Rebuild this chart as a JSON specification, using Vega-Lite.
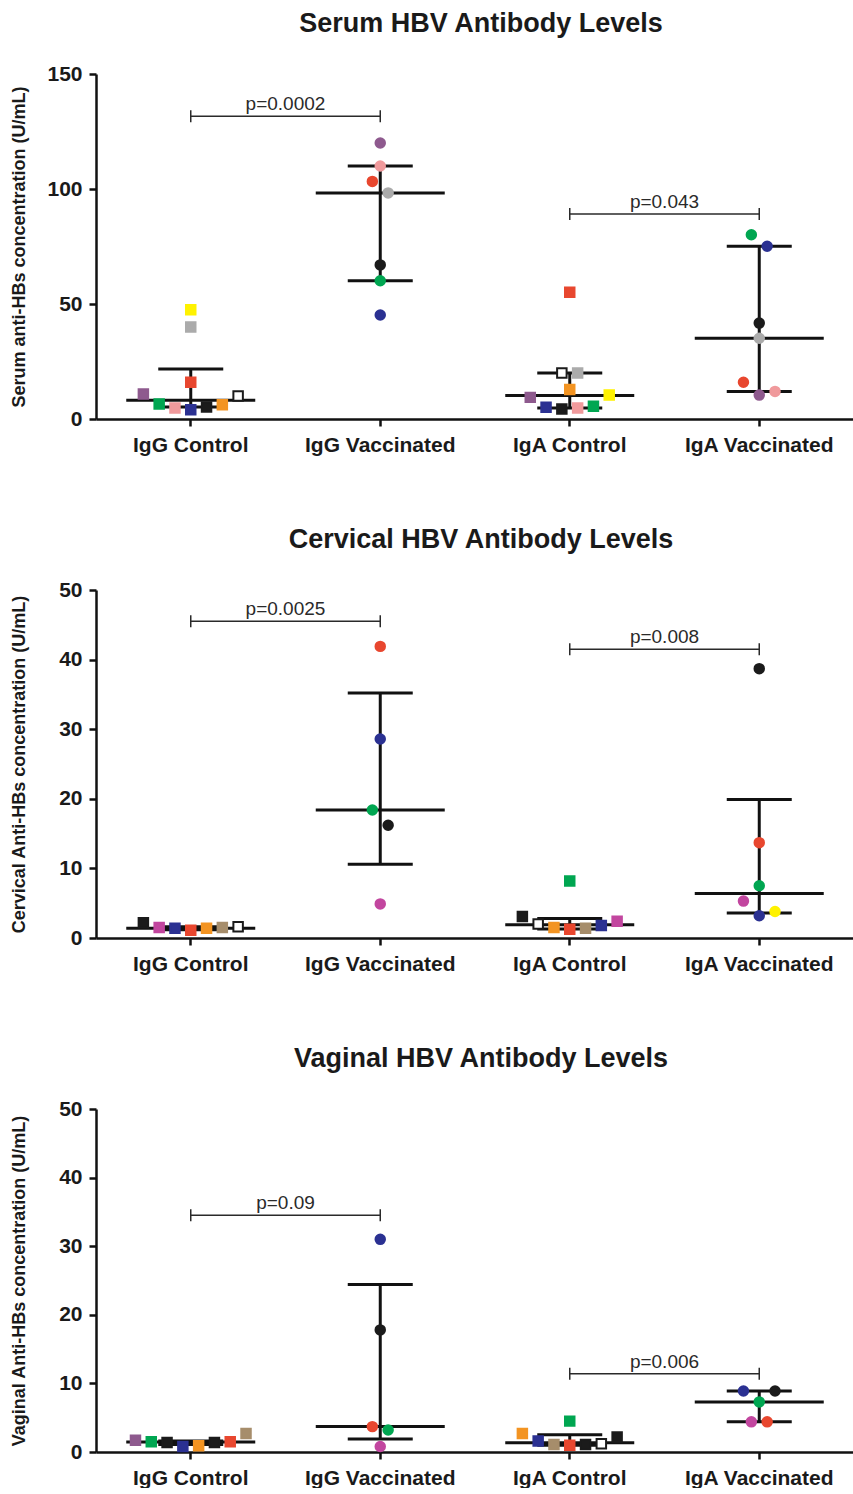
{
  "$schema": "https://vega.github.io/schema/vega-lite/v6.json",
  "background": "white",
  "padding": {"left": 9, "top": 10, "right": 0, "bottom": 0},
  "config": {
    "view": {"stroke": null},
    "font": "Liberation Sans",
    "tick": {"opacity": 1},
    "axis": {"domainColor": "#111111", "domainWidth": 2.5, "tickColor": "#111111", "tickWidth": 2.5, "tickSize": 7, "labelFont": "Liberation Sans", "labelFontSize": 21, "labelFontWeight": "bold", "labelColor": "#1a1a1a", "labelPadding": 7, "titleFont": "Liberation Sans", "titleFontSize": 18, "titleFontWeight": "bold", "titleColor": "#1a1a1a", "grid": false},
    "axisX": {"labelPadding": 8},
    "axisY": {"titleBaseline": "middle"},
    "title": {"fontSize": 27, "fontWeight": "bold", "color": "#1a1a1a", "font": "Liberation Sans", "offset": 25, "baseline": "alphabetic", "anchor": "middle", "dx": 6},
    "concat": {"spacing": 71}
  },
  "datasets": {
    "points": [
      {"panel": "Serum", "group": "IgG Control", "slot": -3, "subject": "purple", "value": 10.9},
      {"panel": "Serum", "group": "IgG Control", "slot": -2, "subject": "green", "value": 6.5},
      {"panel": "Serum", "group": "IgG Control", "slot": -1, "subject": "pink", "value": 4.8},
      {"panel": "Serum", "group": "IgG Control", "slot": 0, "subject": "yellow", "value": 47.5},
      {"panel": "Serum", "group": "IgG Control", "slot": 0, "subject": "gray", "value": 40},
      {"panel": "Serum", "group": "IgG Control", "slot": 0, "subject": "red", "value": 16},
      {"panel": "Serum", "group": "IgG Control", "slot": 0, "subject": "navy", "value": 4},
      {"panel": "Serum", "group": "IgG Control", "slot": 1, "subject": "black", "value": 5.2},
      {"panel": "Serum", "group": "IgG Control", "slot": 2, "subject": "orange", "value": 6.2},
      {"panel": "Serum", "group": "IgG Control", "slot": 3, "subject": "open", "value": 10},
      {"panel": "Serum", "group": "IgG Vaccinated", "slot": 0, "subject": "purple", "value": 120},
      {"panel": "Serum", "group": "IgG Vaccinated", "slot": 0, "subject": "pink", "value": 110},
      {"panel": "Serum", "group": "IgG Vaccinated", "slot": -0.5, "subject": "red", "value": 103.3},
      {"panel": "Serum", "group": "IgG Vaccinated", "slot": 0.5, "subject": "gray", "value": 98.3},
      {"panel": "Serum", "group": "IgG Vaccinated", "slot": 0, "subject": "black", "value": 67},
      {"panel": "Serum", "group": "IgG Vaccinated", "slot": 0, "subject": "green", "value": 60.1},
      {"panel": "Serum", "group": "IgG Vaccinated", "slot": 0, "subject": "navy", "value": 45.2},
      {"panel": "Serum", "group": "IgA Control", "slot": 0, "subject": "red", "value": 55.1},
      {"panel": "Serum", "group": "IgA Control", "slot": -0.5, "subject": "open", "value": 20},
      {"panel": "Serum", "group": "IgA Control", "slot": 0.5, "subject": "gray", "value": 20},
      {"panel": "Serum", "group": "IgA Control", "slot": 0, "subject": "orange", "value": 12.8},
      {"panel": "Serum", "group": "IgA Control", "slot": -2.5, "subject": "purple", "value": 9.4},
      {"panel": "Serum", "group": "IgA Control", "slot": 2.5, "subject": "yellow", "value": 10.4},
      {"panel": "Serum", "group": "IgA Control", "slot": -1.5, "subject": "navy", "value": 5.1},
      {"panel": "Serum", "group": "IgA Control", "slot": -0.5, "subject": "black", "value": 4.3},
      {"panel": "Serum", "group": "IgA Control", "slot": 0.5, "subject": "pink", "value": 4.8},
      {"panel": "Serum", "group": "IgA Control", "slot": 1.5, "subject": "green", "value": 5.5},
      {"panel": "Serum", "group": "IgA Vaccinated", "slot": -0.5, "subject": "green", "value": 80.1},
      {"panel": "Serum", "group": "IgA Vaccinated", "slot": 0.5, "subject": "navy", "value": 75.1},
      {"panel": "Serum", "group": "IgA Vaccinated", "slot": 0, "subject": "black", "value": 41.7},
      {"panel": "Serum", "group": "IgA Vaccinated", "slot": 0, "subject": "gray", "value": 35.1},
      {"panel": "Serum", "group": "IgA Vaccinated", "slot": -1, "subject": "red", "value": 16},
      {"panel": "Serum", "group": "IgA Vaccinated", "slot": 0, "subject": "purple", "value": 10.4},
      {"panel": "Serum", "group": "IgA Vaccinated", "slot": 1, "subject": "pink", "value": 12},
      {"panel": "Cervical", "group": "IgG Control", "slot": -3, "subject": "black", "value": 2.2},
      {"panel": "Cervical", "group": "IgG Control", "slot": -2, "subject": "magenta", "value": 1.5},
      {"panel": "Cervical", "group": "IgG Control", "slot": -1, "subject": "navy", "value": 1.4},
      {"panel": "Cervical", "group": "IgG Control", "slot": 0, "subject": "red", "value": 1.1},
      {"panel": "Cervical", "group": "IgG Control", "slot": 1, "subject": "orange", "value": 1.4},
      {"panel": "Cervical", "group": "IgG Control", "slot": 2, "subject": "tan", "value": 1.5},
      {"panel": "Cervical", "group": "IgG Control", "slot": 3, "subject": "open", "value": 1.6},
      {"panel": "Cervical", "group": "IgG Vaccinated", "slot": 0, "subject": "red", "value": 41.9},
      {"panel": "Cervical", "group": "IgG Vaccinated", "slot": 0, "subject": "navy", "value": 28.6},
      {"panel": "Cervical", "group": "IgG Vaccinated", "slot": -0.5, "subject": "green", "value": 18.4},
      {"panel": "Cervical", "group": "IgG Vaccinated", "slot": 0.5, "subject": "black", "value": 16.2},
      {"panel": "Cervical", "group": "IgG Vaccinated", "slot": 0, "subject": "magenta", "value": 4.9},
      {"panel": "Cervical", "group": "IgA Control", "slot": 0, "subject": "green", "value": 8.2},
      {"panel": "Cervical", "group": "IgA Control", "slot": -3, "subject": "black", "value": 3.1},
      {"panel": "Cervical", "group": "IgA Control", "slot": -2, "subject": "open", "value": 2.0},
      {"panel": "Cervical", "group": "IgA Control", "slot": -1, "subject": "orange", "value": 1.5},
      {"panel": "Cervical", "group": "IgA Control", "slot": 0, "subject": "red", "value": 1.25},
      {"panel": "Cervical", "group": "IgA Control", "slot": 1, "subject": "tan", "value": 1.4},
      {"panel": "Cervical", "group": "IgA Control", "slot": 2, "subject": "navy", "value": 1.8},
      {"panel": "Cervical", "group": "IgA Control", "slot": 3, "subject": "magenta", "value": 2.4},
      {"panel": "Cervical", "group": "IgA Vaccinated", "slot": 0, "subject": "black", "value": 38.7},
      {"panel": "Cervical", "group": "IgA Vaccinated", "slot": 0, "subject": "red", "value": 13.7},
      {"panel": "Cervical", "group": "IgA Vaccinated", "slot": 0, "subject": "green", "value": 7.5},
      {"panel": "Cervical", "group": "IgA Vaccinated", "slot": -1, "subject": "magenta", "value": 5.3},
      {"panel": "Cervical", "group": "IgA Vaccinated", "slot": 0, "subject": "navy", "value": 3.2},
      {"panel": "Cervical", "group": "IgA Vaccinated", "slot": 1, "subject": "yellow", "value": 3.8},
      {"panel": "Vaginal", "group": "IgG Control", "slot": -3.5, "subject": "purple", "value": 1.7},
      {"panel": "Vaginal", "group": "IgG Control", "slot": -2.5, "subject": "green", "value": 1.5},
      {"panel": "Vaginal", "group": "IgG Control", "slot": -1.5, "subject": "black", "value": 1.4},
      {"panel": "Vaginal", "group": "IgG Control", "slot": -0.5, "subject": "navy", "value": 0.8},
      {"panel": "Vaginal", "group": "IgG Control", "slot": 0.5, "subject": "orange", "value": 0.9},
      {"panel": "Vaginal", "group": "IgG Control", "slot": 1.5, "subject": "black", "value": 1.4},
      {"panel": "Vaginal", "group": "IgG Control", "slot": 2.5, "subject": "red", "value": 1.5},
      {"panel": "Vaginal", "group": "IgG Control", "slot": 3.5, "subject": "tan", "value": 2.7},
      {"panel": "Vaginal", "group": "IgG Vaccinated", "slot": 0, "subject": "navy", "value": 31.0},
      {"panel": "Vaginal", "group": "IgG Vaccinated", "slot": 0, "subject": "black", "value": 17.8},
      {"panel": "Vaginal", "group": "IgG Vaccinated", "slot": -0.5, "subject": "red", "value": 3.7},
      {"panel": "Vaginal", "group": "IgG Vaccinated", "slot": 0.5, "subject": "green", "value": 3.2},
      {"panel": "Vaginal", "group": "IgG Vaccinated", "slot": 0, "subject": "magenta", "value": 0.8},
      {"panel": "Vaginal", "group": "IgA Control", "slot": -3, "subject": "orange", "value": 2.7},
      {"panel": "Vaginal", "group": "IgA Control", "slot": 0, "subject": "green", "value": 4.5},
      {"panel": "Vaginal", "group": "IgA Control", "slot": -2, "subject": "navy", "value": 1.6},
      {"panel": "Vaginal", "group": "IgA Control", "slot": -1, "subject": "tan", "value": 1.1},
      {"panel": "Vaginal", "group": "IgA Control", "slot": 0, "subject": "red", "value": 1.0},
      {"panel": "Vaginal", "group": "IgA Control", "slot": 1, "subject": "black", "value": 1.1},
      {"panel": "Vaginal", "group": "IgA Control", "slot": 2, "subject": "open", "value": 1.2},
      {"panel": "Vaginal", "group": "IgA Control", "slot": 3, "subject": "black", "value": 2.2},
      {"panel": "Vaginal", "group": "IgA Vaccinated", "slot": -1, "subject": "navy", "value": 8.9},
      {"panel": "Vaginal", "group": "IgA Vaccinated", "slot": 1, "subject": "black", "value": 8.9},
      {"panel": "Vaginal", "group": "IgA Vaccinated", "slot": 0, "subject": "green", "value": 7.3},
      {"panel": "Vaginal", "group": "IgA Vaccinated", "slot": -0.5, "subject": "magenta", "value": 4.4},
      {"panel": "Vaginal", "group": "IgA Vaccinated", "slot": 0.5, "subject": "red", "value": 4.4}
    ],
    "stats": [
      {"panel": "Serum", "group": "IgG Control", "median": 8.2, "q1": 5.2, "q3": 21.7},
      {"panel": "Serum", "group": "IgG Vaccinated", "median": 98.3, "q1": 60.1, "q3": 110},
      {"panel": "Serum", "group": "IgA Control", "median": 10.2, "q1": 4.8, "q3": 20},
      {"panel": "Serum", "group": "IgA Vaccinated", "median": 35.1, "q1": 12, "q3": 75.1},
      {"panel": "Cervical", "group": "IgG Control", "median": 1.4, "q1": 1.2, "q3": 1.6},
      {"panel": "Cervical", "group": "IgG Vaccinated", "median": 18.4, "q1": 10.6, "q3": 35.2},
      {"panel": "Cervical", "group": "IgA Control", "median": 1.9, "q1": 1.3, "q3": 2.8},
      {"panel": "Cervical", "group": "IgA Vaccinated", "median": 6.4, "q1": 3.6, "q3": 19.9},
      {"panel": "Vaginal", "group": "IgG Control", "median": 1.46, "q1": 1.1, "q3": 1.6},
      {"panel": "Vaginal", "group": "IgG Vaccinated", "median": 3.7, "q1": 1.9, "q3": 24.4},
      {"panel": "Vaginal", "group": "IgA Control", "median": 1.36, "q1": 1.0, "q3": 2.5},
      {"panel": "Vaginal", "group": "IgA Vaccinated", "median": 7.3, "q1": 4.4, "q3": 8.9}
    ],
    "brackets": [
      {"panel": "Serum", "from": "IgG Control", "to": "IgG Vaccinated", "y": 131.6, "label": "p=0.0002"},
      {"panel": "Serum", "from": "IgA Control", "to": "IgA Vaccinated", "y": 89.1, "label": "p=0.043"},
      {"panel": "Cervical", "from": "IgG Control", "to": "IgG Vaccinated", "y": 45.5, "label": "p=0.0025"},
      {"panel": "Cervical", "from": "IgA Control", "to": "IgA Vaccinated", "y": 41.5, "label": "p=0.008"},
      {"panel": "Vaginal", "from": "IgG Control", "to": "IgG Vaccinated", "y": 34.5, "label": "p=0.09"},
      {"panel": "Vaginal", "from": "IgA Control", "to": "IgA Vaccinated", "y": 11.4, "label": "p=0.006"}
    ]
  },
  "vconcat": [
    {
      "title": "Serum HBV Antibody Levels",
      "width": 758, "height": 345,
      "layer": [
        {"data": {"name": "stats"}, "transform": [{"filter": "datum.panel === 'Serum'"}],
         "mark": {"type": "rule", "strokeWidth": 3, "color": "#111111"},
         "encoding": {
           "x": {"field": "group", "type": "nominal", "scale": {"domain": ["IgG Control", "IgG Vaccinated", "IgA Control", "IgA Vaccinated"], "paddingInner": 0, "paddingOuter": 0}, "axis": {"title": null, "labelAngle": 0}},
           "y": {"field": "q1", "type": "quantitative", "scale": {"domain": [0, 150], "nice": false}, "axis": {"title": "Serum anti-HBs concentration (U/mL)", "values": [0, 50, 100, 150], "titleX": -77}},
           "y2": {"field": "q3"}}},
        {"data": {"name": "stats"}, "transform": [{"filter": "datum.panel === 'Serum'"}],
         "mark": {"type": "tick", "size": 129, "thickness": 3, "color": "#111111", "opacity": 1},
         "encoding": {
           "x": {"field": "group", "type": "nominal", "scale": {"domain": ["IgG Control", "IgG Vaccinated", "IgA Control", "IgA Vaccinated"], "paddingInner": 0, "paddingOuter": 0}, "axis": {"title": null, "labelAngle": 0}},
           "y": {"field": "median", "type": "quantitative", "scale": {"domain": [0, 150], "nice": false}, "axis": {"title": "Serum anti-HBs concentration (U/mL)", "values": [0, 50, 100, 150], "titleX": -77}}}},
        {"data": {"name": "stats"}, "transform": [{"filter": "datum.panel === 'Serum'"}],
         "mark": {"type": "tick", "size": 65, "thickness": 3, "color": "#111111", "opacity": 1},
         "encoding": {
           "x": {"field": "group", "type": "nominal", "scale": {"domain": ["IgG Control", "IgG Vaccinated", "IgA Control", "IgA Vaccinated"], "paddingInner": 0, "paddingOuter": 0}, "axis": {"title": null, "labelAngle": 0}},
           "y": {"field": "q1", "type": "quantitative", "scale": {"domain": [0, 150], "nice": false}, "axis": {"title": "Serum anti-HBs concentration (U/mL)", "values": [0, 50, 100, 150], "titleX": -77}}}},
        {"data": {"name": "stats"}, "transform": [{"filter": "datum.panel === 'Serum'"}],
         "mark": {"type": "tick", "size": 65, "thickness": 3, "color": "#111111", "opacity": 1},
         "encoding": {
           "x": {"field": "group", "type": "nominal", "scale": {"domain": ["IgG Control", "IgG Vaccinated", "IgA Control", "IgA Vaccinated"], "paddingInner": 0, "paddingOuter": 0}, "axis": {"title": null, "labelAngle": 0}},
           "y": {"field": "q3", "type": "quantitative", "scale": {"domain": [0, 150], "nice": false}, "axis": {"title": "Serum anti-HBs concentration (U/mL)", "values": [0, 50, 100, 150], "titleX": -77}}}},
        {"data": {"name": "brackets"}, "transform": [{"filter": "datum.panel === 'Serum'"}],
         "mark": {"type": "rule", "strokeWidth": 1.5, "color": "#2a2a2a"},
         "encoding": {
           "x": {"field": "from", "type": "nominal", "scale": {"domain": ["IgG Control", "IgG Vaccinated", "IgA Control", "IgA Vaccinated"], "paddingInner": 0, "paddingOuter": 0}, "axis": {"title": null, "labelAngle": 0}},
           "x2": {"field": "to"},
           "y": {"field": "y", "type": "quantitative", "scale": {"domain": [0, 150], "nice": false}, "axis": {"title": "Serum anti-HBs concentration (U/mL)", "values": [0, 50, 100, 150], "titleX": -77}}}},
        {"data": {"name": "brackets"}, "transform": [{"filter": "datum.panel === 'Serum'"}],
         "mark": {"type": "tick", "orient": "vertical", "size": 12, "thickness": 1.5, "color": "#2a2a2a", "opacity": 1},
         "encoding": {
           "x": {"field": "from", "type": "nominal", "scale": {"domain": ["IgG Control", "IgG Vaccinated", "IgA Control", "IgA Vaccinated"], "paddingInner": 0, "paddingOuter": 0}, "axis": {"title": null, "labelAngle": 0}},
           "y": {"field": "y", "type": "quantitative", "scale": {"domain": [0, 150], "nice": false}, "axis": {"title": "Serum anti-HBs concentration (U/mL)", "values": [0, 50, 100, 150], "titleX": -77}}}},
        {"data": {"name": "brackets"}, "transform": [{"filter": "datum.panel === 'Serum'"}],
         "mark": {"type": "tick", "orient": "vertical", "size": 12, "thickness": 1.5, "color": "#2a2a2a", "opacity": 1},
         "encoding": {
           "x": {"field": "to", "type": "nominal", "scale": {"domain": ["IgG Control", "IgG Vaccinated", "IgA Control", "IgA Vaccinated"], "paddingInner": 0, "paddingOuter": 0}, "axis": {"title": null, "labelAngle": 0}},
           "y": {"field": "y", "type": "quantitative", "scale": {"domain": [0, 150], "nice": false}, "axis": {"title": "Serum anti-HBs concentration (U/mL)", "values": [0, 50, 100, 150], "titleX": -77}}}},
        {"data": {"name": "brackets"}, "transform": [{"filter": "datum.panel === 'Serum'"}],
         "mark": {"type": "text", "dx": 94.75, "dy": -12, "fontSize": 19, "color": "#2a2a2a", "font": "Liberation Sans"},
         "encoding": {
           "x": {"field": "from", "type": "nominal", "scale": {"domain": ["IgG Control", "IgG Vaccinated", "IgA Control", "IgA Vaccinated"], "paddingInner": 0, "paddingOuter": 0}, "axis": {"title": null, "labelAngle": 0}},
           "y": {"field": "y", "type": "quantitative", "scale": {"domain": [0, 150], "nice": false}, "axis": {"title": "Serum anti-HBs concentration (U/mL)", "values": [0, 50, 100, 150], "titleX": -77}},
           "text": {"field": "label"}}},
        {"data": {"name": "points"}, "transform": [{"filter": "datum.panel === 'Serum'"}],
         "mark": {"type": "point", "filled": true, "size": 90, "strokeWidth": 2, "opacity": 1},
         "encoding": {
           "x": {"field": "group", "type": "nominal", "scale": {"domain": ["IgG Control", "IgG Vaccinated", "IgA Control", "IgA Vaccinated"], "paddingInner": 0, "paddingOuter": 0}, "axis": {"title": null, "labelAngle": 0}},
           "xOffset": {"field": "slot", "type": "quantitative", "scale": {"domain": [-6, 6], "range": [0, 189.5]}},
           "y": {"field": "value", "type": "quantitative", "scale": {"domain": [0, 150], "nice": false}, "axis": {"title": "Serum anti-HBs concentration (U/mL)", "values": [0, 50, 100, 150], "titleX": -77}},
           "shape": {"field": "group", "type": "nominal", "scale": {"domain": ["IgG Control", "IgG Vaccinated", "IgA Control", "IgA Vaccinated"], "range": ["square", "circle", "square", "circle"]}, "legend": null},
           "fill": {"field": "subject", "type": "nominal", "scale": {"domain": ["purple", "green", "pink", "yellow", "gray", "red", "navy", "black", "orange", "open", "magenta", "tan"], "range": ["#8E5A8E", "#00A651", "#F09A9C", "#FFF200", "#ABABAB", "#E8472F", "#2B3192", "#1B1B1B", "#F39422", "#FFFFFF", "#C2469F", "#A68D6B"]}, "legend": null},
           "stroke": {"field": "subject", "type": "nominal", "scale": {"domain": ["purple", "green", "pink", "yellow", "gray", "red", "navy", "black", "orange", "open", "magenta", "tan"], "range": ["#8E5A8E", "#00A651", "#F09A9C", "#FFF200", "#ABABAB", "#E8472F", "#2B3192", "#1B1B1B", "#F39422", "#1B1B1B", "#C2469F", "#A68D6B"]}, "legend": null}}}
      ]
    },
    {
      "title": "Cervical HBV Antibody Levels",
      "width": 758, "height": 348,
      "layer": [
        {"data": {"name": "stats"}, "transform": [{"filter": "datum.panel === 'Cervical'"}],
         "mark": {"type": "rule", "strokeWidth": 3, "color": "#111111"},
         "encoding": {
           "x": {"field": "group", "type": "nominal", "scale": {"domain": ["IgG Control", "IgG Vaccinated", "IgA Control", "IgA Vaccinated"], "paddingInner": 0, "paddingOuter": 0}, "axis": {"title": null, "labelAngle": 0}},
           "y": {"field": "q1", "type": "quantitative", "scale": {"domain": [0, 50], "nice": false}, "axis": {"title": "Cervical Anti-HBs concentration (U/mL)", "values": [0, 10, 20, 30, 40, 50], "titleX": -77}},
           "y2": {"field": "q3"}}},
        {"data": {"name": "stats"}, "transform": [{"filter": "datum.panel === 'Cervical'"}],
         "mark": {"type": "tick", "size": 129, "thickness": 3, "color": "#111111", "opacity": 1},
         "encoding": {
           "x": {"field": "group", "type": "nominal", "scale": {"domain": ["IgG Control", "IgG Vaccinated", "IgA Control", "IgA Vaccinated"], "paddingInner": 0, "paddingOuter": 0}, "axis": {"title": null, "labelAngle": 0}},
           "y": {"field": "median", "type": "quantitative", "scale": {"domain": [0, 50], "nice": false}, "axis": {"title": "Cervical Anti-HBs concentration (U/mL)", "values": [0, 10, 20, 30, 40, 50], "titleX": -77}}}},
        {"data": {"name": "stats"}, "transform": [{"filter": "datum.panel === 'Cervical'"}],
         "mark": {"type": "tick", "size": 65, "thickness": 3, "color": "#111111", "opacity": 1},
         "encoding": {
           "x": {"field": "group", "type": "nominal", "scale": {"domain": ["IgG Control", "IgG Vaccinated", "IgA Control", "IgA Vaccinated"], "paddingInner": 0, "paddingOuter": 0}, "axis": {"title": null, "labelAngle": 0}},
           "y": {"field": "q1", "type": "quantitative", "scale": {"domain": [0, 50], "nice": false}, "axis": {"title": "Cervical Anti-HBs concentration (U/mL)", "values": [0, 10, 20, 30, 40, 50], "titleX": -77}}}},
        {"data": {"name": "stats"}, "transform": [{"filter": "datum.panel === 'Cervical'"}],
         "mark": {"type": "tick", "size": 65, "thickness": 3, "color": "#111111", "opacity": 1},
         "encoding": {
           "x": {"field": "group", "type": "nominal", "scale": {"domain": ["IgG Control", "IgG Vaccinated", "IgA Control", "IgA Vaccinated"], "paddingInner": 0, "paddingOuter": 0}, "axis": {"title": null, "labelAngle": 0}},
           "y": {"field": "q3", "type": "quantitative", "scale": {"domain": [0, 50], "nice": false}, "axis": {"title": "Cervical Anti-HBs concentration (U/mL)", "values": [0, 10, 20, 30, 40, 50], "titleX": -77}}}},
        {"data": {"name": "brackets"}, "transform": [{"filter": "datum.panel === 'Cervical'"}],
         "mark": {"type": "rule", "strokeWidth": 1.5, "color": "#2a2a2a"},
         "encoding": {
           "x": {"field": "from", "type": "nominal", "scale": {"domain": ["IgG Control", "IgG Vaccinated", "IgA Control", "IgA Vaccinated"], "paddingInner": 0, "paddingOuter": 0}, "axis": {"title": null, "labelAngle": 0}},
           "x2": {"field": "to"},
           "y": {"field": "y", "type": "quantitative", "scale": {"domain": [0, 50], "nice": false}, "axis": {"title": "Cervical Anti-HBs concentration (U/mL)", "values": [0, 10, 20, 30, 40, 50], "titleX": -77}}}},
        {"data": {"name": "brackets"}, "transform": [{"filter": "datum.panel === 'Cervical'"}],
         "mark": {"type": "tick", "orient": "vertical", "size": 12, "thickness": 1.5, "color": "#2a2a2a", "opacity": 1},
         "encoding": {
           "x": {"field": "from", "type": "nominal", "scale": {"domain": ["IgG Control", "IgG Vaccinated", "IgA Control", "IgA Vaccinated"], "paddingInner": 0, "paddingOuter": 0}, "axis": {"title": null, "labelAngle": 0}},
           "y": {"field": "y", "type": "quantitative", "scale": {"domain": [0, 50], "nice": false}, "axis": {"title": "Cervical Anti-HBs concentration (U/mL)", "values": [0, 10, 20, 30, 40, 50], "titleX": -77}}}},
        {"data": {"name": "brackets"}, "transform": [{"filter": "datum.panel === 'Cervical'"}],
         "mark": {"type": "tick", "orient": "vertical", "size": 12, "thickness": 1.5, "color": "#2a2a2a", "opacity": 1},
         "encoding": {
           "x": {"field": "to", "type": "nominal", "scale": {"domain": ["IgG Control", "IgG Vaccinated", "IgA Control", "IgA Vaccinated"], "paddingInner": 0, "paddingOuter": 0}, "axis": {"title": null, "labelAngle": 0}},
           "y": {"field": "y", "type": "quantitative", "scale": {"domain": [0, 50], "nice": false}, "axis": {"title": "Cervical Anti-HBs concentration (U/mL)", "values": [0, 10, 20, 30, 40, 50], "titleX": -77}}}},
        {"data": {"name": "brackets"}, "transform": [{"filter": "datum.panel === 'Cervical'"}],
         "mark": {"type": "text", "dx": 94.75, "dy": -12, "fontSize": 19, "color": "#2a2a2a", "font": "Liberation Sans"},
         "encoding": {
           "x": {"field": "from", "type": "nominal", "scale": {"domain": ["IgG Control", "IgG Vaccinated", "IgA Control", "IgA Vaccinated"], "paddingInner": 0, "paddingOuter": 0}, "axis": {"title": null, "labelAngle": 0}},
           "y": {"field": "y", "type": "quantitative", "scale": {"domain": [0, 50], "nice": false}, "axis": {"title": "Cervical Anti-HBs concentration (U/mL)", "values": [0, 10, 20, 30, 40, 50], "titleX": -77}},
           "text": {"field": "label"}}},
        {"data": {"name": "points"}, "transform": [{"filter": "datum.panel === 'Cervical'"}],
         "mark": {"type": "point", "filled": true, "size": 90, "strokeWidth": 2, "opacity": 1},
         "encoding": {
           "x": {"field": "group", "type": "nominal", "scale": {"domain": ["IgG Control", "IgG Vaccinated", "IgA Control", "IgA Vaccinated"], "paddingInner": 0, "paddingOuter": 0}, "axis": {"title": null, "labelAngle": 0}},
           "xOffset": {"field": "slot", "type": "quantitative", "scale": {"domain": [-6, 6], "range": [0, 189.5]}},
           "y": {"field": "value", "type": "quantitative", "scale": {"domain": [0, 50], "nice": false}, "axis": {"title": "Cervical Anti-HBs concentration (U/mL)", "values": [0, 10, 20, 30, 40, 50], "titleX": -77}},
           "shape": {"field": "group", "type": "nominal", "scale": {"domain": ["IgG Control", "IgG Vaccinated", "IgA Control", "IgA Vaccinated"], "range": ["square", "circle", "square", "circle"]}, "legend": null},
           "fill": {"field": "subject", "type": "nominal", "scale": {"domain": ["purple", "green", "pink", "yellow", "gray", "red", "navy", "black", "orange", "open", "magenta", "tan"], "range": ["#8E5A8E", "#00A651", "#F09A9C", "#FFF200", "#ABABAB", "#E8472F", "#2B3192", "#1B1B1B", "#F39422", "#FFFFFF", "#C2469F", "#A68D6B"]}, "legend": null},
           "stroke": {"field": "subject", "type": "nominal", "scale": {"domain": ["purple", "green", "pink", "yellow", "gray", "red", "navy", "black", "orange", "open", "magenta", "tan"], "range": ["#8E5A8E", "#00A651", "#F09A9C", "#FFF200", "#ABABAB", "#E8472F", "#2B3192", "#1B1B1B", "#F39422", "#1B1B1B", "#C2469F", "#A68D6B"]}, "legend": null}}}
      ]
    },
    {
      "title": "Vaginal HBV Antibody Levels",
      "width": 758, "height": 343,
      "layer": [
        {"data": {"name": "stats"}, "transform": [{"filter": "datum.panel === 'Vaginal'"}],
         "mark": {"type": "rule", "strokeWidth": 3, "color": "#111111"},
         "encoding": {
           "x": {"field": "group", "type": "nominal", "scale": {"domain": ["IgG Control", "IgG Vaccinated", "IgA Control", "IgA Vaccinated"], "paddingInner": 0, "paddingOuter": 0}, "axis": {"title": null, "labelAngle": 0}},
           "y": {"field": "q1", "type": "quantitative", "scale": {"domain": [0, 50], "nice": false}, "axis": {"title": "Vaginal Anti-HBs concentration (U/mL)", "values": [0, 10, 20, 30, 40, 50], "titleX": -77}},
           "y2": {"field": "q3"}}},
        {"data": {"name": "stats"}, "transform": [{"filter": "datum.panel === 'Vaginal'"}],
         "mark": {"type": "tick", "size": 129, "thickness": 3, "color": "#111111", "opacity": 1},
         "encoding": {
           "x": {"field": "group", "type": "nominal", "scale": {"domain": ["IgG Control", "IgG Vaccinated", "IgA Control", "IgA Vaccinated"], "paddingInner": 0, "paddingOuter": 0}, "axis": {"title": null, "labelAngle": 0}},
           "y": {"field": "median", "type": "quantitative", "scale": {"domain": [0, 50], "nice": false}, "axis": {"title": "Vaginal Anti-HBs concentration (U/mL)", "values": [0, 10, 20, 30, 40, 50], "titleX": -77}}}},
        {"data": {"name": "stats"}, "transform": [{"filter": "datum.panel === 'Vaginal'"}],
         "mark": {"type": "tick", "size": 65, "thickness": 3, "color": "#111111", "opacity": 1},
         "encoding": {
           "x": {"field": "group", "type": "nominal", "scale": {"domain": ["IgG Control", "IgG Vaccinated", "IgA Control", "IgA Vaccinated"], "paddingInner": 0, "paddingOuter": 0}, "axis": {"title": null, "labelAngle": 0}},
           "y": {"field": "q1", "type": "quantitative", "scale": {"domain": [0, 50], "nice": false}, "axis": {"title": "Vaginal Anti-HBs concentration (U/mL)", "values": [0, 10, 20, 30, 40, 50], "titleX": -77}}}},
        {"data": {"name": "stats"}, "transform": [{"filter": "datum.panel === 'Vaginal'"}],
         "mark": {"type": "tick", "size": 65, "thickness": 3, "color": "#111111", "opacity": 1},
         "encoding": {
           "x": {"field": "group", "type": "nominal", "scale": {"domain": ["IgG Control", "IgG Vaccinated", "IgA Control", "IgA Vaccinated"], "paddingInner": 0, "paddingOuter": 0}, "axis": {"title": null, "labelAngle": 0}},
           "y": {"field": "q3", "type": "quantitative", "scale": {"domain": [0, 50], "nice": false}, "axis": {"title": "Vaginal Anti-HBs concentration (U/mL)", "values": [0, 10, 20, 30, 40, 50], "titleX": -77}}}},
        {"data": {"name": "brackets"}, "transform": [{"filter": "datum.panel === 'Vaginal'"}],
         "mark": {"type": "rule", "strokeWidth": 1.5, "color": "#2a2a2a"},
         "encoding": {
           "x": {"field": "from", "type": "nominal", "scale": {"domain": ["IgG Control", "IgG Vaccinated", "IgA Control", "IgA Vaccinated"], "paddingInner": 0, "paddingOuter": 0}, "axis": {"title": null, "labelAngle": 0}},
           "x2": {"field": "to"},
           "y": {"field": "y", "type": "quantitative", "scale": {"domain": [0, 50], "nice": false}, "axis": {"title": "Vaginal Anti-HBs concentration (U/mL)", "values": [0, 10, 20, 30, 40, 50], "titleX": -77}}}},
        {"data": {"name": "brackets"}, "transform": [{"filter": "datum.panel === 'Vaginal'"}],
         "mark": {"type": "tick", "orient": "vertical", "size": 12, "thickness": 1.5, "color": "#2a2a2a", "opacity": 1},
         "encoding": {
           "x": {"field": "from", "type": "nominal", "scale": {"domain": ["IgG Control", "IgG Vaccinated", "IgA Control", "IgA Vaccinated"], "paddingInner": 0, "paddingOuter": 0}, "axis": {"title": null, "labelAngle": 0}},
           "y": {"field": "y", "type": "quantitative", "scale": {"domain": [0, 50], "nice": false}, "axis": {"title": "Vaginal Anti-HBs concentration (U/mL)", "values": [0, 10, 20, 30, 40, 50], "titleX": -77}}}},
        {"data": {"name": "brackets"}, "transform": [{"filter": "datum.panel === 'Vaginal'"}],
         "mark": {"type": "tick", "orient": "vertical", "size": 12, "thickness": 1.5, "color": "#2a2a2a", "opacity": 1},
         "encoding": {
           "x": {"field": "to", "type": "nominal", "scale": {"domain": ["IgG Control", "IgG Vaccinated", "IgA Control", "IgA Vaccinated"], "paddingInner": 0, "paddingOuter": 0}, "axis": {"title": null, "labelAngle": 0}},
           "y": {"field": "y", "type": "quantitative", "scale": {"domain": [0, 50], "nice": false}, "axis": {"title": "Vaginal Anti-HBs concentration (U/mL)", "values": [0, 10, 20, 30, 40, 50], "titleX": -77}}}},
        {"data": {"name": "brackets"}, "transform": [{"filter": "datum.panel === 'Vaginal'"}],
         "mark": {"type": "text", "dx": 94.75, "dy": -12, "fontSize": 19, "color": "#2a2a2a", "font": "Liberation Sans"},
         "encoding": {
           "x": {"field": "from", "type": "nominal", "scale": {"domain": ["IgG Control", "IgG Vaccinated", "IgA Control", "IgA Vaccinated"], "paddingInner": 0, "paddingOuter": 0}, "axis": {"title": null, "labelAngle": 0}},
           "y": {"field": "y", "type": "quantitative", "scale": {"domain": [0, 50], "nice": false}, "axis": {"title": "Vaginal Anti-HBs concentration (U/mL)", "values": [0, 10, 20, 30, 40, 50], "titleX": -77}},
           "text": {"field": "label"}}},
        {"data": {"name": "points"}, "transform": [{"filter": "datum.panel === 'Vaginal'"}],
         "mark": {"type": "point", "filled": true, "size": 90, "strokeWidth": 2, "opacity": 1},
         "encoding": {
           "x": {"field": "group", "type": "nominal", "scale": {"domain": ["IgG Control", "IgG Vaccinated", "IgA Control", "IgA Vaccinated"], "paddingInner": 0, "paddingOuter": 0}, "axis": {"title": null, "labelAngle": 0}},
           "xOffset": {"field": "slot", "type": "quantitative", "scale": {"domain": [-6, 6], "range": [0, 189.5]}},
           "y": {"field": "value", "type": "quantitative", "scale": {"domain": [0, 50], "nice": false}, "axis": {"title": "Vaginal Anti-HBs concentration (U/mL)", "values": [0, 10, 20, 30, 40, 50], "titleX": -77}},
           "shape": {"field": "group", "type": "nominal", "scale": {"domain": ["IgG Control", "IgG Vaccinated", "IgA Control", "IgA Vaccinated"], "range": ["square", "circle", "square", "circle"]}, "legend": null},
           "fill": {"field": "subject", "type": "nominal", "scale": {"domain": ["purple", "green", "pink", "yellow", "gray", "red", "navy", "black", "orange", "open", "magenta", "tan"], "range": ["#8E5A8E", "#00A651", "#F09A9C", "#FFF200", "#ABABAB", "#E8472F", "#2B3192", "#1B1B1B", "#F39422", "#FFFFFF", "#C2469F", "#A68D6B"]}, "legend": null},
           "stroke": {"field": "subject", "type": "nominal", "scale": {"domain": ["purple", "green", "pink", "yellow", "gray", "red", "navy", "black", "orange", "open", "magenta", "tan"], "range": ["#8E5A8E", "#00A651", "#F09A9C", "#FFF200", "#ABABAB", "#E8472F", "#2B3192", "#1B1B1B", "#F39422", "#1B1B1B", "#C2469F", "#A68D6B"]}, "legend": null}}}
      ]
    }
  ]
}
